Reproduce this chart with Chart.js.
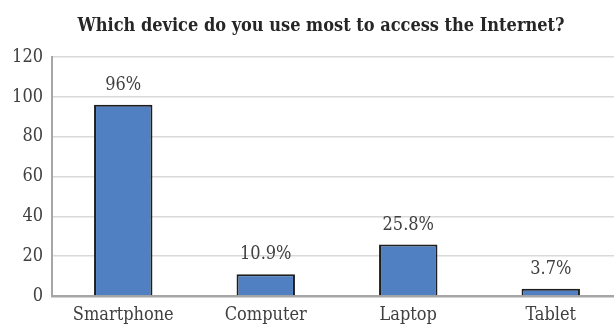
<!DOCTYPE html>
<html>
<head>
<meta charset="utf-8">
<script src="https://cdn.jsdelivr.net/npm/chart.js@4.4.1/dist/chart.umd.min.js"></script>
<style>
	html, body { margin: 0; padding: 0; background: #fff; overflow: hidden; }
	#wrap { width: 624px; height: 327px; position: relative; }
</style>
</head>
<body>
<div id="wrap"><canvas id="chart"></canvas></div>
<script>
const title = 'Which device do you use most to access the Internet?';
const categories = ['Smartphone', 'Computer', 'Laptop', 'Tablet'];
const values = [96, 10.9, 25.8, 3.7];
const valueLabels = ['96%', '10.9%', '25.8%', '3.7%'];
const yTicks = [0, 20, 40, 60, 80, 100, 120];

const FONT = "'DejaVu Serif Condensed', 'DejaVu Serif', serif";

// draws the title and the value labels above each bar
const labelPlugin = {
	id: 'labels',
	afterDatasetsDraw(chart) {
		const ctx = chart.ctx;
		ctx.save();
		ctx.fillStyle = '#262626';
		ctx.font = 'bold 18px ' + FONT;
		ctx.textAlign = 'center';
		ctx.textBaseline = 'alphabetic';
		ctx.fillText(title, 321, 31);

		ctx.fillStyle = '#404040';
		ctx.font = '18px ' + FONT;
		const meta = chart.getDatasetMeta(0);
		meta.data.forEach((bar, i) => {
			ctx.fillText(valueLabels[i], bar.x, bar.y - 15);
		});
		ctx.restore();
	}
};

const ctx = document.getElementById('chart');
new Chart(ctx, {
	type: 'bar',
	data: {
		labels: categories,
		datasets: [{
			data: values,
			backgroundColor: '#5180c2',
			borderColor: '#1e1e1e',
			borderWidth: 2,
			borderSkipped: 'bottom',
			categoryPercentage: 1,
			barPercentage: 0.41,
		}]
	},
	options: {
		responsive: true,
		maintainAspectRatio: false,
		animation: false,
		layout: {
			padding: { top: 57, right: 2, left: 0, bottom: 0 }
		},
		plugins: {
			legend: { display: false },
			tooltip: { enabled: false },
		},
		scales: {
			x: {
				grid: { display: false, drawTicks: false },
				border: { color: '#a6a6a6', width: 2.5 },
				ticks: {
					color: '#404040',
					font: { family: FONT, size: 18 },
					padding: 9,
				},
				afterFit(scale) { scale.height = 31; },
			},
			y: {
				min: 0,
				max: 120,
				afterBuildTicks(scale) {
					scale.ticks = yTicks.map(v => ({ value: v }));
				},
				grid: { color: '#d9d9d9', lineWidth: 1.5, drawTicks: false },
				border: { color: '#a6a6a6', width: 2 },
				ticks: {
					color: '#404040',
					font: { family: FONT, size: 18 },
					padding: 9,
				},
				afterFit(scale) { scale.width = 52; },
			}
		}
	},
	plugins: [labelPlugin]
});
</script>
</body>
</html>
